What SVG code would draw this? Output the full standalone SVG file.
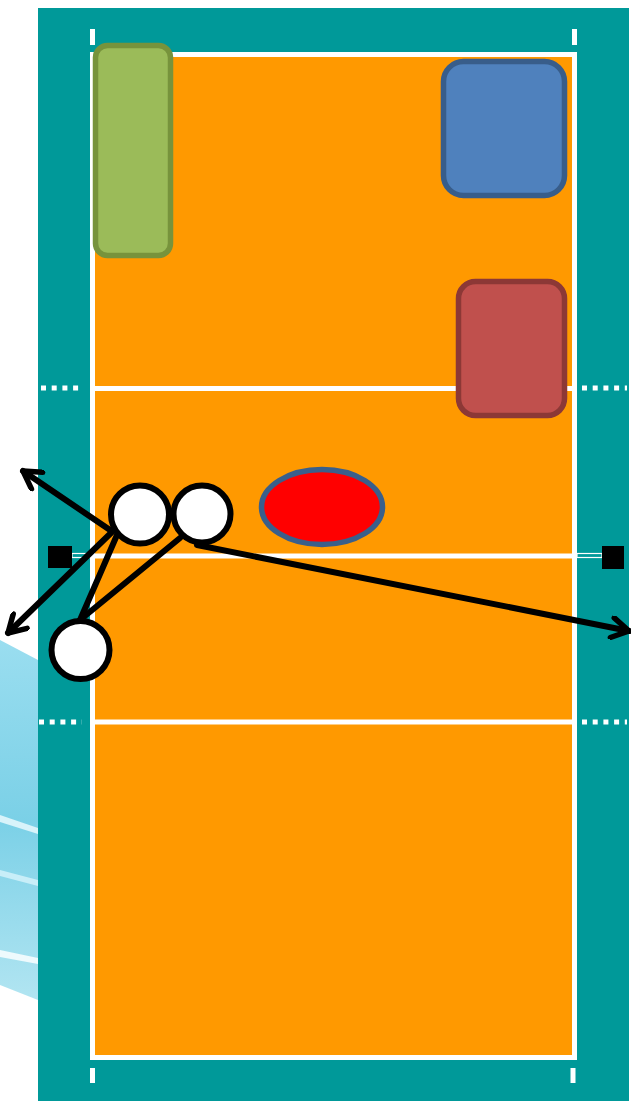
<svg xmlns="http://www.w3.org/2000/svg" width="631" height="1101" viewBox="0 0 631 1101">
<defs>
<style>
.wl{stroke:#ffffff;stroke-width:5;fill:none}
.dot{stroke:#ffffff;stroke-width:5;stroke-dasharray:5 5.7;fill:none}
.tick{stroke:#ffffff;stroke-width:5}
.mv{stroke:#000000;stroke-width:6;fill:none;stroke-linecap:round}
.pl{fill:#ffffff;stroke:#000000;stroke-width:6}
</style>
<marker id="ah" viewBox="0 0 24 24" refX="21" refY="12" markerWidth="24" markerHeight="24" markerUnits="userSpaceOnUse" orient="auto">
<path d="M4,2 L21,12 L4,22" fill="none" stroke="#000" stroke-width="5.5" stroke-linecap="round" stroke-linejoin="round"/>
</marker>
<linearGradient id="sw" x1="0" y1="0" x2="0" y2="1">
<stop offset="0" stop-color="#8fdaee"/>
<stop offset="0.5" stop-color="#6ccbe4"/>
<stop offset="1" stop-color="#a9e2f0"/>
</linearGradient>
</defs>
<rect width="631" height="1101" fill="#ffffff"/>
<g id="swoosh">
<polygon points="0,640 38,660 38,1000 0,985" fill="url(#sw)" opacity="0.9"/>
<polygon points="0,815 38,828 38,834 0,822" fill="#d8f3fa"/>
<polygon points="0,870 38,880 38,886 0,876" fill="#c8eef8"/>
<polygon points="0,950 38,958 38,964 0,957" fill="#eefafd"/>
</g>
<g id="court">
<rect x="38" y="8" width="591" height="1093" fill="#009999"/>
<rect x="92.5" y="54.5" width="482" height="1003" fill="#ff9900"/>
<rect x="92.5" y="54.5" width="482" height="1003" class="wl"/>
<line x1="92" y1="388.5" x2="575" y2="388.5" class="wl"/>
<line x1="92" y1="556" x2="575" y2="556" class="wl"/>
<line x1="92" y1="722" x2="575" y2="722" class="wl"/>
<line x1="41" y1="388" x2="82" y2="388" class="dot"/>
<line x1="582" y1="388" x2="627" y2="388" class="dot"/>
<line x1="39" y1="722" x2="82" y2="722" class="dot"/>
<line x1="582" y1="722" x2="627" y2="722" class="dot"/>
<line x1="92.5" y1="29" x2="92.5" y2="45" class="tick"/>
<line x1="574.5" y1="29" x2="574.5" y2="45" class="tick"/>
<line x1="92.5" y1="1068" x2="92.5" y2="1083" class="tick"/>
<line x1="573" y1="1068" x2="573" y2="1083" class="tick"/>
<rect x="72" y="553.5" width="20" height="4" fill="none" stroke="#ffffff" stroke-width="1.2"/>
<rect x="577" y="553.5" width="25" height="4" fill="none" stroke="#ffffff" stroke-width="1.2"/>
<rect x="48" y="546" width="24" height="22" fill="#000000"/>
<rect x="602" y="546" width="22" height="23" fill="#000000"/>
</g>
<g id="green"><rect x="95.5" y="45.5" width="75" height="210" rx="12" fill="#9bbb59" stroke="#77933c" stroke-width="5.5"/></g>
<g id="blue"><rect x="443.5" y="61.5" width="121" height="134" rx="20" fill="#4f81bd" stroke="#385d8a" stroke-width="5.5"/></g>
<g id="redrect"><rect x="458.5" y="281.5" width="106" height="134" rx="17" fill="#c0504d" stroke="#8c3836" stroke-width="5.5"/></g>
<g id="ellipse"><ellipse cx="322" cy="507" rx="60.5" ry="37.5" fill="#ff0000" stroke="#3a5f8b" stroke-width="5.5"/></g>
<g id="connectors">
<line x1="110" y1="530" x2="23" y2="471" class="mv" marker-end="url(#ah)"/>
<line x1="112" y1="532" x2="8" y2="633" class="mv" marker-end="url(#ah)"/>
<line x1="117" y1="535" x2="80" y2="620" class="mv"/>
<line x1="180" y1="538" x2="80" y2="620" class="mv"/>
<line x1="197" y1="545" x2="629" y2="631" class="mv" marker-end="url(#ah)"/>
</g>
<g id="p1"><circle cx="140" cy="514.5" r="29" class="pl"/></g>
<g id="p2"><circle cx="202" cy="514" r="28.5" class="pl"/></g>
<g id="p3"><circle cx="80.5" cy="650" r="29" class="pl"/></g>
</svg>
